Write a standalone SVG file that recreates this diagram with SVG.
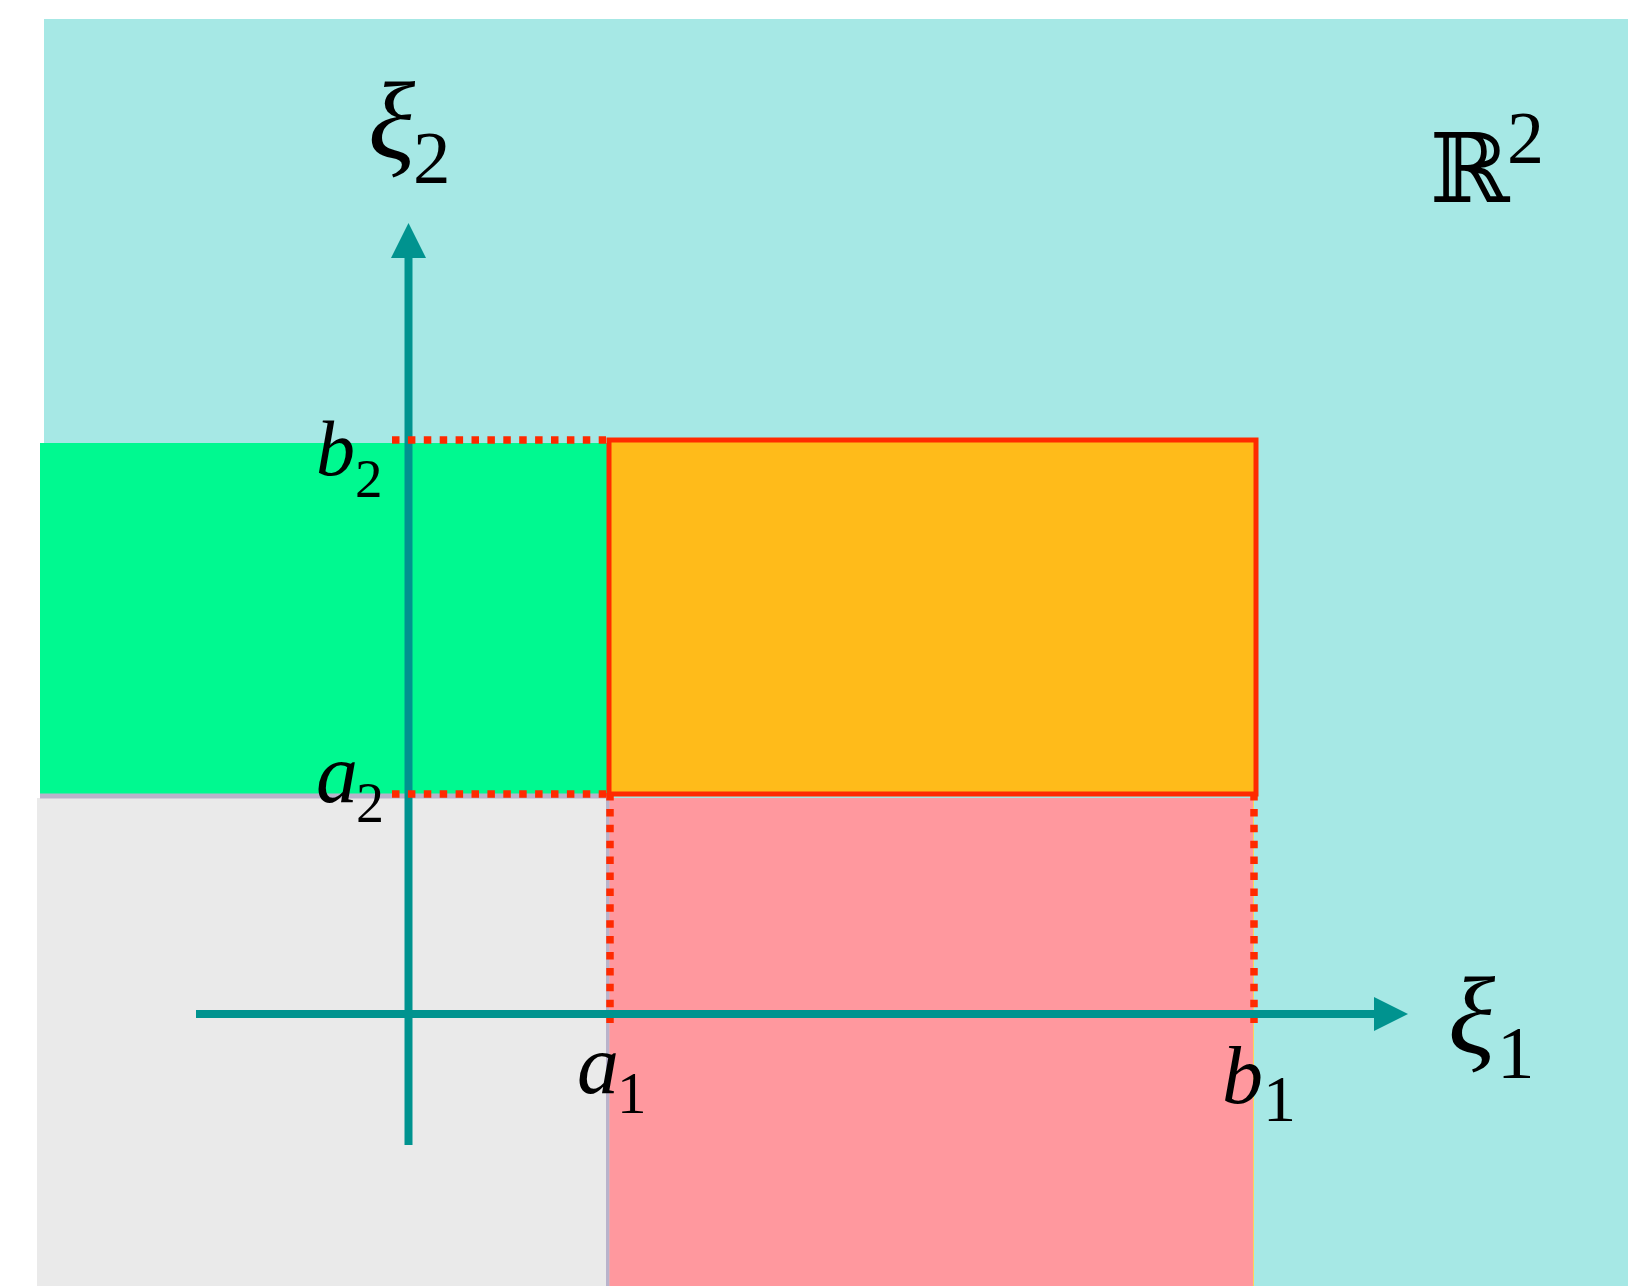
<svg xmlns="http://www.w3.org/2000/svg" width="1628" height="1286" viewBox="0 0 1628 1286">
<defs>
<style>
.dot{stroke:#FF2A00;stroke-width:7.5;stroke-dasharray:7.5 8.4;fill:none}
.axis{stroke:#00938F;stroke-width:8;fill:none}
.head{fill:#00938F}
</style>
</defs>
<rect width="1628" height="1286" fill="#FFFFFF"/>
<g id="plane">
<rect x="44" y="19" width="1584" height="1267" fill="#A6E8E5"/>
</g>
<g id="regions">
<rect id="green" x="40" y="443" width="569" height="351" fill="#00F990"/>
<rect id="gray" x="37" y="798" width="569" height="488" fill="#EAEAEA"/>
<rect x="40" y="793.5" width="569" height="5" fill="#B9B3CB"/>
<rect x="606" y="798" width="3.3" height="488" fill="#B9B3CB"/>
<rect id="pink" x="609.3" y="798" width="644" height="488" fill="#FF989E"/>
<rect x="1253" y="798" width="1" height="488" fill="#FFD15A"/>
</g>
<g id="rect">
<rect x="609" y="440" width="647" height="354" fill="#FFBB1A" stroke="#FF2A00" stroke-width="5"/>
</g>
<g id="connectors">
<line class="axis" x1="408.5" y1="1145" x2="408.5" y2="256"/>
<polygon class="head" points="391,258 426,258 408.5,223"/>
<line class="dot" x1="392" y1="440" x2="606" y2="440"/>
<line class="dot" x1="392" y1="794" x2="606" y2="794"/>
<line class="dot" x1="610" y1="793" x2="610" y2="1024"/>
<line class="dot" x1="1254" y1="793" x2="1254" y2="1024"/>
<line class="axis" x1="196" y1="1014" x2="1376" y2="1014"/>
<polygon class="head" points="1374,997 1374,1031 1408,1014"/>
</g>
<g id="labels" font-family="Liberation Serif, Times New Roman, serif" fill="#000">
<g id="xi2"><text x="368" y="158" font-size="110" font-style="italic">ξ</text><text x="413" y="183" font-size="75">2</text></g>
<g id="xi1"><text x="1448" y="1053" font-size="110" font-style="italic">ξ</text><text x="1497" y="1078" font-size="75">1</text></g>
<g id="R2"><text x="1430" y="202" font-size="96" font-family="DejaVu Serif, serif">ℝ</text><text x="1507" y="163" font-size="74">2</text></g>
<g id="b2"><text x="316" y="475" font-size="78" font-style="italic">b</text><text x="355" y="497" font-size="55">2</text></g>
<g id="a2"><text x="316" y="802" font-size="84" font-style="italic">a</text><text x="356" y="822" font-size="56">2</text></g>
<g id="a1"><text x="577" y="1093" font-size="84" font-style="italic">a</text><text x="617" y="1113" font-size="59">1</text></g>
<g id="b1"><text x="1222" y="1103" font-size="82" font-style="italic">b</text><text x="1263" y="1121" font-size="66">1</text></g>
</g>
</svg>
